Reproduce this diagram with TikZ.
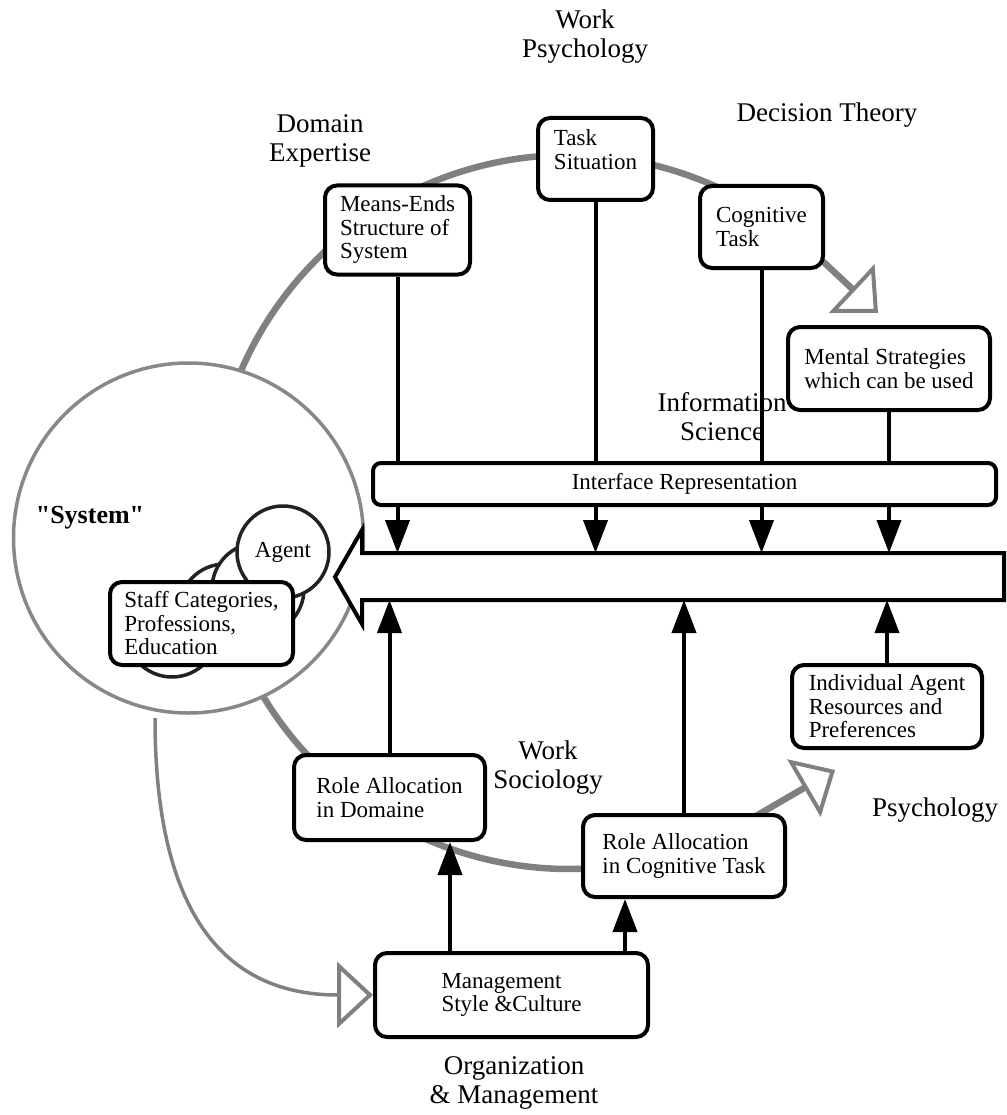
\documentclass[tikz,border=0pt]{standalone}
\usepackage{fontspec}
\setmainfont{Liberation Serif}
\newfontfamily\plainserif{Liberation Serif}[Ligatures=TeXOff]
\usetikzlibrary{arrows.meta,calc}
\definecolor{ringgray}{RGB}{128,128,128}
\definecolor{sysgray}{RGB}{136,136,136}
\definecolor{agentline}{RGB}{34,34,34}
\newcommand\boxfont{\fontsize{23}{23.5}\selectfont}
\newcommand\labfont{\fontsize{27}{29}\selectfont}
\newcommand\sysfont{\fontsize{26}{28}\selectfont}
\begin{document}
\begin{tikzpicture}[x=1pt,y=-1pt,
  box/.style={draw, line width=4pt, rounded corners=12pt, fill=white, align=left, inner sep=0pt, font=\boxfont},
  lab/.style={align=center, inner sep=0pt, font=\labfont},
  arr/.style={line width=4pt, -{Triangle[length=33pt,width=24pt]}},
  ringline/.style={draw=ringgray, line width=6.5pt, line join=round},
  hollow/.tip={Triangle[open, length=36pt, width=66pt, line width=4pt]},
  agentc/.style={circle, draw=agentline, line width=3.5pt, fill=white, minimum size=92pt, inner sep=0pt, font=\boxfont}
]
\fill[white] (0,0) rectangle (1006,1115);
\useasboundingbox (0,0) rectangle (1006,1115);

% ring of disciplines
\coordinate (ringC) at (569,512);
\coordinate (tipTR) at (878,313);
\coordinate (tipBR) at (835,770);
\draw[ringline, {hollow}-{hollow}] (tipTR) -- ([shift={(-50:357)}]ringC)
   arc[start angle=-50, end angle=-298, radius=357] -- (tipBR);

% system circle
\node[circle, draw=sysgray, line width=3.5pt, fill=white, minimum size=350pt, inner sep=0pt] (sys) at (188.5,538) {};
\node[font=\plainserif\bfseries\sysfont, inner sep=0pt] (syslab) at (90,518) {"System"};
\node[agentc] (ag4) at (172,631) {};
\node[agentc] (ag3) at (225,610) {};
\node[agentc] (ag2) at (258,589) {};
\node[agentc] (ag1) at (283,552) {Agent};
\node[box, minimum width=183pt, minimum height=83pt] (staff) at (201.5,623.5) {Staff Categories,\\Professions,\\Education};

% labels (drawn under lines and boxes)
\node[lab] (lwp) at (585,37) {Work\\Psychology};
\node[lab] (ldt) at (827,115) {Decision Theory};
\node[lab] (lde) at (320,141) {Domain\\Expertise};
\node[lab] (lis) at (722,417) {Information\\Science};
\node[lab] (lws) at (548,768) {Work\\Sociology};
\node[lab] (lps) at (935,810) {Psychology};
\node[lab] (lom) at (514,1083) {Organization\\\& Management};

% top boxes
\node[box, minimum width=145pt, minimum height=89pt] (means) at (397.5,230) {Means-Ends\\Structure of\\System};
\node[box, minimum width=115pt, minimum height=82pt, text depth=19pt] (task) at (595.5,159) {Task\\Situation};
\node[box, minimum width=123pt, minimum height=82pt] (cog) at (761.5,227) {Cognitive\\Task};
\node[box, minimum width=202pt, minimum height=83pt] (mental) at (889,368.5) {Mental Strategies\\which can be used};

% bottom boxes
\node[box, minimum width=190pt, minimum height=83pt] (indiv) at (887,706.5) {Individual Agent\\Resources and\\Preferences};
\node[box, minimum width=191pt, minimum height=85pt] (rad) at (389.5,797.5) {Role Allocation\\in Domaine};
\node[box, minimum width=202pt, minimum height=82pt] (rac) at (684,856) {Role Allocation\\in Cognitive Task};
\node[box, minimum width=273pt, minimum height=84pt] (mgmt) at (511.5,995) {Management\\Style \&Culture};

% curve from system to management
\coordinate (cstart) at (155,718);
\draw[draw=ringgray, line width=3.5pt, -{hollow}] (cstart) .. controls (155,900) and (215,995) .. (mgmt.west);

% shaft edges of the big arrow
\coordinate (shaftT) at (0,553);
\coordinate (shaftB) at (0,600);

% down arrows
\draw[arr] (means.south) -- (means.south |- shaftT);
\draw[arr] (task.south) -- (task.south |- shaftT);
\draw[arr] (cog.south) -- (cog.south |- shaftT);
\draw[arr] (mental.south) -- (mental.south |- shaftT);

% interface box over the lines
\node[box, align=center, rounded corners=8pt, minimum width=623pt, minimum height=42pt] (iface) at (684.5,484) {Interface Representation};

% big arrow
\draw[line width=4pt, fill=white, line join=miter] (1004,553) -- (362,553) -- (362,530) -- (335,577) -- (362,624) -- (362,600) -- (1004,600) -- cycle;

% up arrows
\draw[arr] (rad.north) -- (rad.north |- shaftB);
\draw[arr] (rac.north) -- (rac.north |- shaftB);
\draw[arr] (indiv.north) -- (indiv.north |- shaftB);
\draw[arr] (450,0 |- mgmt.north) -- (450,0 |- rad.south);
\draw[arr] (625,0 |- mgmt.north) -- (625,0 |- rac.south);
\end{tikzpicture}
\end{document}
